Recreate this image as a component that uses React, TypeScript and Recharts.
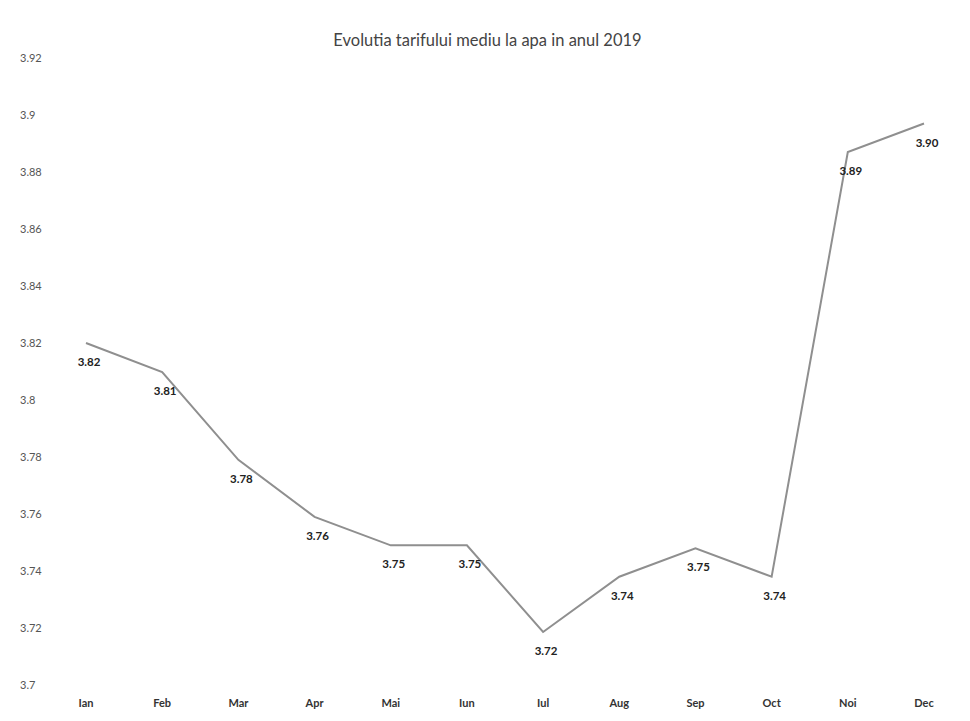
import { LineChart, Line, XAxis, YAxis, LabelList } from "recharts";

const months = ["Ian", "Feb", "Mar", "Apr", "Mai", "Iun", "Iul", "Aug", "Sep", "Oct", "Noi", "Dec"];
const tarif = [3.82, 3.8098, 3.779, 3.759, 3.749, 3.749, 3.7186, 3.738, 3.748, 3.738, 3.887, 3.897];
const yTicks = [3.7, 3.72, 3.74, 3.76, 3.78, 3.8, 3.82, 3.84, 3.86, 3.88, 3.9, 3.92];

const data = months.map((m, i) => ({ month: m, value: tarif[i] }));

const FONT = "Lato, 'Open Sans', sans-serif";

function YTick(props: any) {
  const { y, payload } = props;
  return (
    <text x={20} y={y} dy={4} textAnchor="start" fontSize={11} fontFamily={FONT} fill="#555">
      {String(payload.value)}
    </text>
  );
}

function PointLabel(props: any) {
  const { x, y, value } = props;
  return (
    <text x={x + 3} y={y + 23} textAnchor="middle" fontSize={11.5} fontWeight={700} fontFamily={FONT} fill="#222">
      {Number(value).toFixed(2)}
    </text>
  );
}

export default function App() {
  return (
    <div style={{ position: "absolute", left: 0, top: 0, width: 970, height: 721, background: "#fff" }}>
      <div
        style={{
          position: "absolute",
          top: 30,
          left: 0,
          width: 975,
          textAlign: "center",
          fontFamily: FONT,
          fontSize: 16.5,
          color: "#444",
        }}
      >
        Evolutia tarifului mediu la apa in anul 2019
      </div>
      <LineChart width={970} height={721} data={data} margin={{ top: 58, right: 8, left: 0, bottom: 0 }}>
        <XAxis
          dataKey="month"
          axisLine={false}
          tickLine={false}
          height={36}
          padding={{ left: 38, right: 38 }}
          tick={{ fontSize: 11, fontWeight: 700, fontFamily: FONT, fill: "#333" }}
          dy={6}
        />
        <YAxis
          domain={[3.7, 3.92]}
          ticks={yTicks}
          axisLine={false}
          tickLine={false}
          width={48}
          tick={<YTick />}
        />
        <Line
          type="linear"
          dataKey="value"
          stroke="#8f8f8f"
          strokeWidth={2}
          dot={false}
          isAnimationActive={false}
        >
          <LabelList dataKey="value" content={<PointLabel />} />
        </Line>
      </LineChart>
    </div>
  );
}
